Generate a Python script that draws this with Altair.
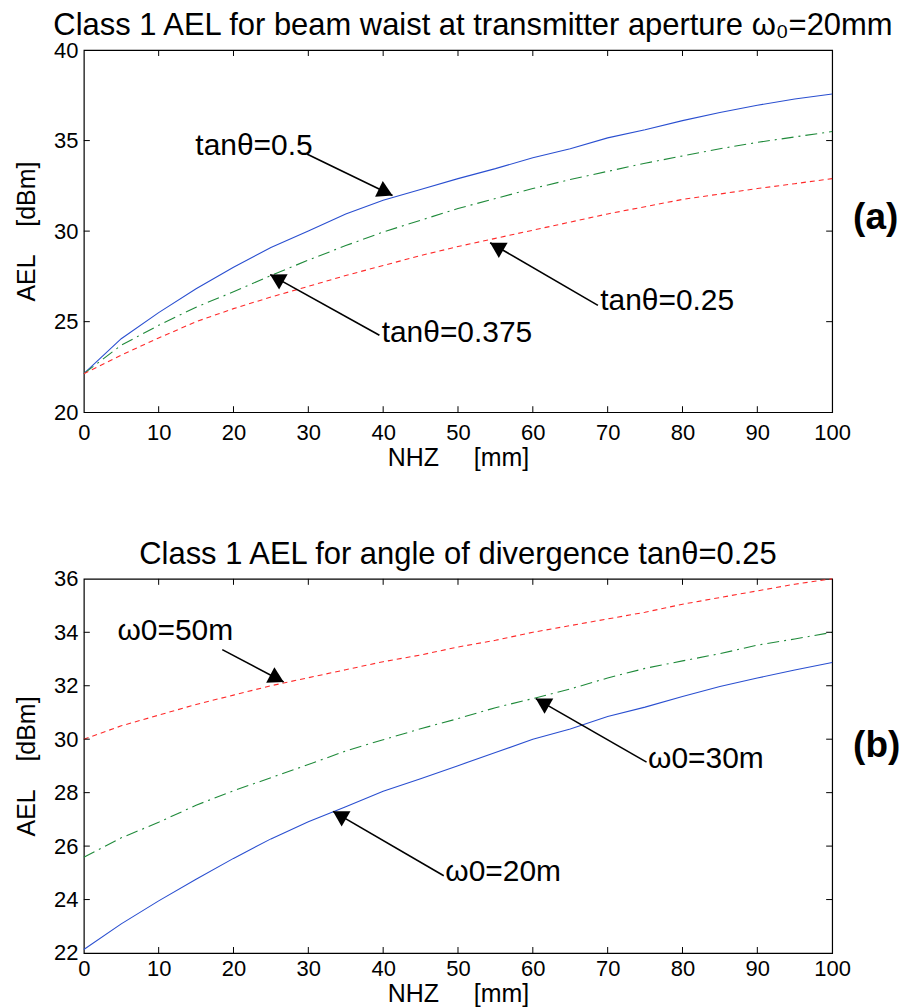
import math
import altair as alt
import pandas as pd

FONT = "Liberation Sans"

# ---------------- data ----------------
nhz = [0, 5, 10, 15, 20, 25, 30, 35, 40, 45, 50, 55, 60, 65, 70, 75, 80, 85, 90, 95, 100]

# panel (a): beam waist 20 mm, different divergence
aTan050 = [22.13, 24.06, 25.5, 26.82, 28.0, 29.1, 30.0, 30.95, 31.7, 32.3, 32.9,
           33.45, 34.05, 34.55, 35.15, 35.6, 36.1, 36.55, 36.95, 37.3, 37.57]
aTan0375 = [22.13, 23.7, 24.8, 25.8, 26.65, 27.55, 28.4, 29.2, 29.95, 30.6, 31.25,
            31.8, 32.35, 32.85, 33.3, 33.75, 34.15, 34.55, 34.9, 35.2, 35.5]
aTan025 = [22.13, 23.15, 24.1, 25.0, 25.72, 26.36, 26.95, 27.55, 28.1, 28.65, 29.15,
           29.6, 30.05, 30.5, 30.95, 31.35, 31.75, 32.05, 32.35, 32.62, 32.9]

# panel (b): divergence tan=0.25, different beam waist
bW20 = [22.13, 23.09, 23.95, 24.76, 25.54, 26.27, 26.91, 27.47, 28.05, 28.52, 29.01,
        29.5, 30.0, 30.38, 30.85, 31.2, 31.6, 31.97, 32.29, 32.59, 32.87]
bW30 = [25.58, 26.31, 26.89, 27.53, 28.07, 28.56, 29.05, 29.56, 29.98, 30.39, 30.77,
        31.18, 31.52, 31.88, 32.29, 32.65, 32.93, 33.2, 33.52, 33.75, 34.0]
bW50 = [30.0, 30.5, 30.9, 31.3, 31.65, 32.0, 32.3, 32.6, 32.9, 33.15, 33.45,
        33.7, 34.0, 34.25, 34.5, 34.75, 35.05, 35.3, 35.55, 35.8, 36.0]

xTicks = [0, 10, 20, 30, 40, 50, 60, 70, 80, 90, 100]
aYTicks = [20, 25, 30, 35, 40]
bYTicks = [22, 24, 26, 28, 30, 32, 34, 36]

# annotations (a)
aLabels = ["tanθ=0.5", "tanθ=0.375", "tanθ=0.25"]
aTextX = [14.9, 39.8, 69.0]
aTextY = [34.69, 24.39, 26.12]
aTailX = [29.8, 39.5, 68.7]
aTailY = [34.26, 24.25, 25.9]
aHeadX = [41.25, 24.9, 54.3]
aHeadY = [31.97, 27.6, 29.36]

# annotations (b)
bLabels = ["ω0=50m", "ω0=30m", "ω0=20m"]
bTextX = [4.5, 75.4, 48.3]
bTextY = [34.03, 29.24, 25.02]
bTailX = [18.5, 75.2, 48.1]
bTailY = [33.35, 29.14, 24.89]
bHeadX = [26.7, 60.4, 33.3]
bHeadY = [32.14, 31.52, 27.3]

titleA = "Class 1 AEL for beam waist at transmitter aperture ω\u2080=20mm"
titleB = "Class 1 AEL for angle of divergence tanθ=0.25"
XTITLE = "NHZ\u00a0\u00a0\u00a0\u00a0\u00a0[mm]"
YTITLE = "AEL\u00a0\u00a0\u00a0\u00a0[dBm]"

BLUE = "#2a4fd0"
GREEN = "#1f8a3a"
RED = "#ff2a2a"

W = 750
HA = 363
HB = 375
TICK = 6


def panel(H, ydom, yticks, series, ann, title, tag, title_dx, lab_pad, tit_pad):
    xs = alt.Scale(domain=[0, 100], nice=False, zero=False)
    ys = alt.Scale(domain=ydom, nice=False, zero=False)
    xaxis = alt.Axis(values=xTicks, title=XTITLE, format="d", labelFlush=False,
                     labelPadding=lab_pad, titlePadding=tit_pad)
    yaxis = alt.Axis(values=yticks, title=YTITLE, format="d")

    def X(f):
        return alt.X(f, type="quantitative", scale=xs, axis=xaxis)

    def Y(f):
        return alt.Y(f, type="quantitative", scale=ys, axis=yaxis)

    layers = []
    for vals, color, dash in series:
        df = pd.DataFrame({"x": nhz, "y": vals})
        if dash:
            m = alt.Chart(df).mark_line(color=color, strokeWidth=1.1, strokeDash=dash)
        else:
            m = alt.Chart(df).mark_line(color=color, strokeWidth=1.1)
        layers.append(m.encode(x=X("x"), y=Y("y")))

    # inward ticks on all four sides (MATLAB style)
    xin = pd.DataFrame({"v": xTicks[1:-1]})
    yin = pd.DataFrame({"v": yticks[1:-1]})
    layers.append(alt.Chart(xin).mark_rule(color="black", strokeWidth=1).encode(
        x=X("v"), y=alt.value(H), y2=alt.value(H - TICK)))
    layers.append(alt.Chart(xin).mark_rule(color="black", strokeWidth=1).encode(
        x=X("v"), y=alt.value(0), y2=alt.value(TICK)))
    layers.append(alt.Chart(yin).mark_rule(color="black", strokeWidth=1).encode(
        y=Y("v"), x=alt.value(0), x2=alt.value(TICK)))
    layers.append(alt.Chart(yin).mark_rule(color="black", strokeWidth=1).encode(
        y=Y("v"), x=alt.value(W - TICK), x2=alt.value(W)))

    labels, lx, ly, tx, ty, hx, hy = ann
    sx = W / 100.0
    sy = H / float(ydom[1] - ydom[0])
    cx, cy, ang = [], [], []
    off = 7.5
    for i in range(len(labels)):
        dxp = (hx[i] - tx[i]) * sx
        dyp = -(hy[i] - ty[i]) * sy
        L = math.hypot(dxp, dyp)
        ux, uy = dxp / L, dyp / L
        cx.append(hx[i] - ux * off / sx)
        cy.append(hy[i] + uy * off / sy)
        ang.append(math.degrees(math.atan2(dxp, -dyp)) % 360)
    adf = pd.DataFrame({"label": labels, "lx": lx, "ly": ly, "tx": tx, "ty": ty,
                        "hx": hx, "hy": hy, "cx": cx, "cy": cy, "ang": ang})
    layers.append(alt.Chart(adf).mark_rule(color="black", strokeWidth=1.6).encode(
        x=X("tx"), y=Y("ty"), x2=alt.X2("hx"), y2=alt.Y2("hy")))
    layers.append(alt.Chart(adf).mark_point(shape="triangle-up", filled=True, color="black",
                                            opacity=1, size=310, strokeWidth=0).encode(
        x=X("cx"), y=Y("cy"), angle=alt.Angle("ang:Q", scale=None)))
    layers.append(alt.Chart(adf).mark_text(align="left", baseline="middle", fontSize=30,
                                           font=FONT, color="black").encode(
        x=X("lx"), y=Y("ly"), text="label:N"))

    tdf = pd.DataFrame({"t": [tag]})
    layers.append(alt.Chart(tdf).mark_text(align="left", baseline="middle", fontSize=37,
                                           fontWeight="bold", font=FONT, color="black").encode(
        x=alt.value(W + 21), y=alt.value(168), text="t:N"))

    return alt.layer(*layers).properties(
        width=W, height=H,
        title=alt.Title(title, fontSize=31, font=FONT, fontWeight="normal", color="black",
                        offset=-3, dx=title_dx))


chartA = panel(HA, [20, 40], aYTicks,
               [(aTan050, BLUE, None), (aTan0375, GREEN, [12, 5, 2, 5]), (aTan025, RED, [5, 4])],
               (aLabels, aTextX, aTextY, aTailX, aTailY, aHeadX, aHeadY),
               titleA, "(a)", 15, 10, 2)
chartB = panel(HB, [22, 36], bYTicks,
               [(bW20, BLUE, None), (bW30, GREEN, [12, 5, 2, 5]), (bW50, RED, [5, 4])],
               (bLabels, bTextX, bTextY, bTailX, bTailY, bHeadX, bHeadY),
               titleB, "(b)", 0, 6, 2)

chart = alt.vconcat(chartA, chartB, spacing=67).properties(
    padding={"left": 5, "top": 0, "right": 0, "bottom": 0}
).configure_view(stroke="black", strokeWidth=1.2).configure_axis(
    labelFont=FONT, labelFontSize=22, labelColor="black",
    titleFont=FONT, titleFontSize=25, titleFontWeight="normal", titleColor="black",
    domain=False, ticks=False, grid=False
).configure_axisY(titlePadding=14, labelPadding=6)

chart.save("out.html", embed_options={"renderer": "svg", "actions": False})
